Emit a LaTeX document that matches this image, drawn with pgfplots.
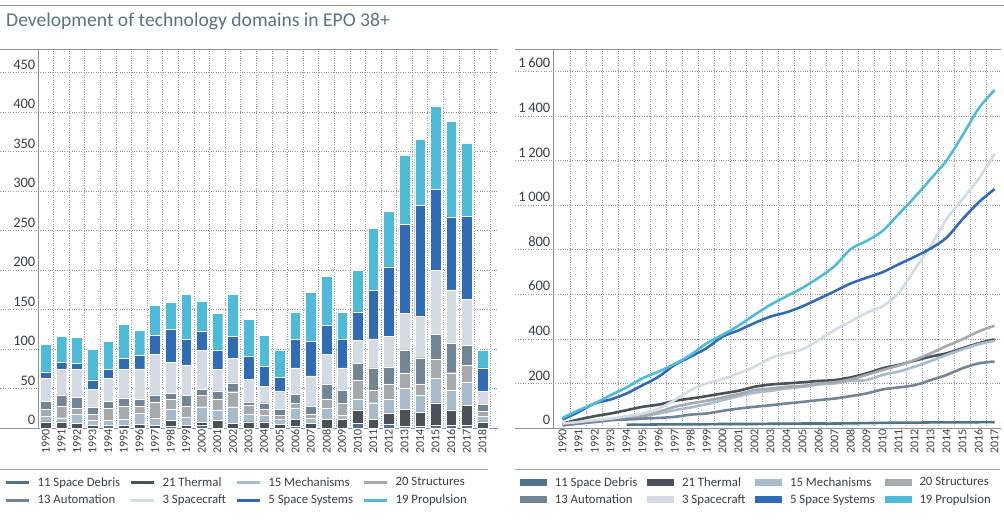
\documentclass[border=0pt]{standalone}
\usepackage{fontspec}
\setmainfont{Carlito}
\usepackage{pgfplots}
\usepackage{pgfplotstable}
\pgfplotsset{compat=1.18}
\definecolor{cDeb}{HTML}{4F7489}
\definecolor{cTh}{HTML}{4B5158}
\definecolor{cMech}{HTML}{A6BBCC}
\definecolor{cStr}{HTML}{A6A9AD}
\definecolor{cAut}{HTML}{718595}
\definecolor{cSc}{HTML}{D4DBE4}
\definecolor{cSs}{HTML}{2F6CB5}
\definecolor{cProp}{HTML}{4CBCD9}
\definecolor{cTitle}{HTML}{587386}
\definecolor{cFrame}{HTML}{8C9399}
\definecolor{cText}{HTML}{3A3F44}

\pgfplotstableread{
year deb th mech str aut sc ss prop
1990 0 8 7 9 10 29 8 35
1991 0 8 5 15 14 33 8 33
1992 0 6 11 8 14 35 8 33
1993 0 3 7 8 8 23 12 39
1994 3 0 7 15 9 29 11 36
1995 0 3 8 17 10 36 14 43
1996 0 5 14 9 8 39 17 32
1997 0 3 9 21 9 51 24 38
1998 2 8 14 12 8 39 42 34
1999 0 3 11 14 13 39 32 57
2000 3 4 20 14 8 49 25 38
2001 0 10 13 14 10 27 25 46
2002 0 6 21 19 11 31 28 53
2003 0 8 10 11 4 29 29 47
2004 0 8 8 8 8 21 25 39
2005 0 5 6 5 8 23 17 35
2006 2 9 14 6 12 33 36 35
2007 0 6 6 6 10 38 44 62
2008 0 11 14 12 19 37 37 62
2009 0 11 5 15 17 28 36 35
2010 6 17 14 24 21 29 36 53
2011 0 11 21 16 28 37 61 79
2012 5 14 17 20 21 39 88 70
2013 2 22 26 19 30 46 113 88
2014 2 18 21 15 33 52 141 84
2015 3 29 31 24 32 81 102 105
2016 3 20 25 22 37 68 92 121
2017 3 26 29 21 26 58 105 93
2018 0 8 7 6 9 17 29 23
}\bars

\pgfplotstableread{
year deb th mech str aut sc ss prop
1990 nan 20 12 12 12 20 38 45
1991 nan 38 20 23 20 27 72 80
1992 nan 53 27 30 27 35 110 110
1993 nan 65 35 38 35 42 128 147
1994 15 80 42 42 38 53 155 182
1995 15 95 53 53 42 65 192 223
1996 16 105 65 72 45 87 230 253
1997 16 122 80 95 50 125 283 287
1998 17 132 92 110 60 170 320 328
1999 17 143 107 122 65 200 358 380
2000 18 155 125 137 77 220 410 418
2001 18 167 143 152 87 245 438 459
2002 18 185 158 170 95 275 471 508
2003 19 195 167 177 102 313 500 553
2004 19 200 177 185 110 335 519 591
2005 20 205 185 189 117 353 546 629
2006 20 211 195 200 125 395 579 674
2007 20 215 200 205 132 440 613 726
2008 21 227 212 218 143 478 648 802
2009 22 245 215 238 155 516 674 839
2010 23 268 238 260 173 546 699 884
2011 24 283 253 280 182 606 734 959
2012 24 302 275 305 192 711 768 1035
2013 25 320 300 335 215 816 805 1117
2014 25 335 328 368 238 937 854 1200
2015 25 358 353 398 268 1027 937 1313
2016 26 380 376 433 290 1117 1012 1433
2017 26 398 391 459 298 1230 1072 1516
}\cum

\pgfplotsset{
  common/.style={
    scale only axis,
    height=379pt,
    ymin=0,
    axis x line*=bottom, axis y line*=left,
    axis line style={draw=cFrame, line width=0.8pt, -},
    ymajorgrids, xminorgrids,
    major grid style={dotted, draw=gray!80, line width=0.6pt},
    minor grid style={dotted, draw=gray!80, line width=0.6pt},
    tick style={draw=none},
    minor tick length=0pt,
    /pgf/number format/assume math mode=true,
    yticklabel style={anchor=south east, font=\fontsize{14.5}{14.5}\selectfont, text=cText, inner sep=1pt, yshift=2pt, xshift=-1.5pt,
      /pgf/number format/1000 sep={\,}},
    xticklabel style={rotate=90, anchor=east, font=\fontsize{12}{12}\selectfont, text=cText, inner sep=1pt, yshift=0pt,
      /pgf/number format/1000 sep={}},
    legend columns=4,
    legend cell align=left,
    legend style={draw=none, fill=none, font=\fontsize{12.8}{15}\selectfont, text=cText,
      inner sep=0pt, row sep=3pt,
      /tikz/every odd column/.append style={column sep=6pt},
      /tikz/every even column/.append style={column sep=8pt}},
    clip=false,
  },
  barst/.style={fill=#1, draw=white, line width=0.35pt,
    legend image code/.code={\path[fill=#1] (0pt,-2pt) rectangle (24pt,2pt);}},
  lnst/.style={draw=#1, line width=2.6pt, smooth, tension=0.5, mark=none,
    legend image code/.code={\path[fill=#1] (0pt,-2pt) rectangle (24pt,2pt);}},
}

\begin{document}
\begin{tikzpicture}
\useasboundingbox (0pt,0pt) rectangle (1004pt,522pt);
% top rule and title
\draw[cFrame, line width=0.8pt] (0pt,517pt) -- (1004pt,517pt);
\node[anchor=base west, inner sep=0pt, text=cTitle, font=\fontsize{19.6}{21}\selectfont] at (6pt,495pt) {Development of technology domains in EPO 38+};
% frame lines
\draw[cFrame, line width=0.8pt] (0pt,473pt) -- (498pt,473pt);
\draw[cFrame, line width=0.8pt] (515pt,473pt) -- (1001pt,473pt);
\draw[cFrame, line width=0.8pt] (0pt,94pt) -- (38pt,94pt);
\draw[cFrame, line width=0.8pt] (515pt,94pt) -- (553pt,94pt);
\draw[gray!70, line width=0.8pt] (0pt,53pt) -- (488pt,53pt);
\draw[gray!70, line width=0.8pt] (515pt,53pt) -- (1000pt,53pt);
\foreach \v in {50,100,...,450} \draw[dotted, gray!80, line width=0.6pt] (0pt,{94pt+\v/480*379pt}) -- (38pt,{94pt+\v/480*379pt});
\foreach \v in {200,400,...,1600} \draw[dotted, gray!80, line width=0.6pt] (515pt,{94pt+\v/1700*379pt}) -- (553pt,{94pt+\v/1700*379pt});

\begin{axis}[common,
  at={(38pt,94pt)}, anchor=south west,
  width=460pt,
  ybar stacked, bar width=10.7pt,
  xmin=1989.5, xmax=2019,
  ymax=480,
  ytick={0,50,...,450},
  xtick={1990,1991,...,2018},
  minor xtick={1990.5,1991.5,...,2018.5},
  legend style={at={(-0.0717,-0.124)}, anchor=north west},
]
\addplot[barst=cDeb] table[x=year,y=deb]{\bars};
\addplot[barst=cTh] table[x=year,y=th]{\bars};
\addplot[barst=cMech] table[x=year,y=mech]{\bars};
\addplot[barst=cStr] table[x=year,y=str]{\bars};
\addplot[barst=cAut] table[x=year,y=aut]{\bars};
\addplot[barst=cSc] table[x=year,y=sc]{\bars};
\addplot[barst=cSs] table[x=year,y=ss]{\bars};
\addplot[barst=cProp] table[x=year,y=prop]{\bars};
\legend{11 Space Debris, 21 Thermal, 15 Mechanisms, 20 Structures, 13 Automation, 3 Spacecraft, 5 Space Systems, 19 Propulsion}
\end{axis}

\begin{axis}[common,
  at={(553pt,94pt)}, anchor=south west,
  width=448pt,
  xmin=1989.4, xmax=2017.4,
  ymax=1700,
  ytick={0,200,...,1600},
  xtick={1990,1991,...,2017},
  minor xtick={1990.5,1991.5,...,2016.5},
  legend style={at={(-0.0737,-0.124)}, anchor=north west},
]
\addplot[lnst=cDeb] table[x=year,y=deb]{\cum};
\addplot[lnst=cTh] table[x=year,y=th]{\cum};
\addplot[lnst=cMech] table[x=year,y=mech]{\cum};
\addplot[lnst=cStr] table[x=year,y=str]{\cum};
\addplot[lnst=cAut] table[x=year,y=aut]{\cum};
\addplot[lnst=cSc] table[x=year,y=sc]{\cum};
\addplot[lnst=cSs] table[x=year,y=ss]{\cum};
\addplot[lnst=cProp] table[x=year,y=prop]{\cum};
\legend{11 Space Debris, 21 Thermal, 15 Mechanisms, 20 Structures, 13 Automation, 3 Spacecraft, 5 Space Systems, 19 Propulsion}
\end{axis}
\end{tikzpicture}
\end{document}
